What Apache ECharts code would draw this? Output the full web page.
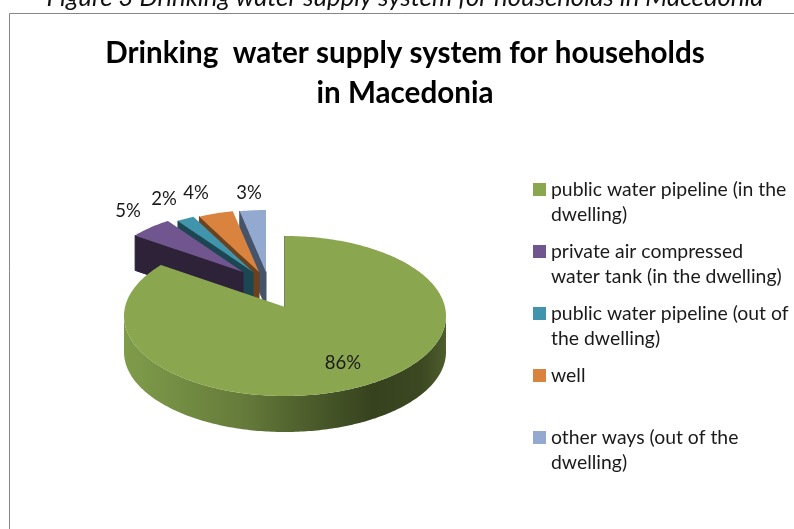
<!DOCTYPE html>
<html>
<head>
<meta charset="utf-8">
<style>html,body{margin:0;padding:0;background:#fff;overflow:hidden}#c{width:794px;height:529px}</style>
<script src="https://cdn.jsdelivr.net/npm/echarts@6/dist/echarts.min.js"></script>
</head>
<body>
<div id="c"></div>
<script>
const captionText = 'Figure 3 Drinking water supply system for households in Macedonia';
const titleText = 'Drinking  water supply system for households\nin Macedonia';
const categories = [
  'public water pipeline (in the\ndwelling)',
  'private air compressed\nwater tank (in the dwelling)',
  'public water pipeline (out of\nthe dwelling)',
  'well',
  'other ways (out of the\ndwelling)'
];
const values = [86, 5, 2, 4, 3];
const faceColors = ['#8aa64f', '#71558e', '#4095ad', '#d9833e', '#93a9cf'];
const wallColors = ['#4a5a2a', '#2d2238', '#1d4653', '#6b411e', '#465469'];
// layout of each exploded slice: ellipse centre, radii, apex lift
const centreX = [285, 243, 253, 259, 266];
const centreY = [316, 280, 280, 280, 280];
const radiusX = [161, 140, 140, 140, 140];
const radiusY = [80, 70, 70, 70, 70];
const apexLift = [9, 8, 8, 8, 8];
const depth = [36, 35, 35, 35, 35];
const labelX = [343, 128, 164, 196, 249];
const labelY = [363, 211, 199, 193, 193];

const total = values.reduce((a, b) => a + b, 0);
const FONT = 'Lato, "Open Sans", sans-serif';

function renderSlice(i) {
  return function (params, api) {
    const v = api.value(0);
    let before = 0;
    for (let k = 0; k < i; k++) before += values[k];
    const a0 = before / total * 2 * Math.PI;
    const a1 = (before + v) / total * 2 * Math.PI;
    const cx = centreX[i], cy = centreY[i], rx = radiusX[i], ry = radiusY[i], d = depth[i];
    const apex = [cx, cy - apexLift[i]];
    const pt = a => [cx + rx * Math.sin(a), cy - ry * Math.cos(a)];
    const arc = [];
    const n = Math.max(8, Math.ceil((a1 - a0) * 60));
    for (let s = 0; s <= n; s++) arc.push(a0 + (a1 - a0) * s / n);

    const children = [];
    // cut face on the start edge
    const p0 = pt(a0);
    children.push({
      type: 'polygon',
      shape: { points: [apex, p0, [p0[0], p0[1] + d], [apex[0], apex[1] + d]] },
      style: { fill: wallColors[i], stroke: wallColors[i], lineWidth: 1 }
    });
    // outer wall where the rim faces the viewer
    const front = arc.filter(a => Math.cos(a) <= 0);
    if (front.length > 1) {
      const top = front.map(pt);
      const bottom = top.map(p => [p[0], p[1] + d]).reverse();
      children.push({
        type: 'polygon',
        shape: { points: top.concat(bottom) },
        style: {
          fill: i === 0
            ? new echarts.graphic.LinearGradient(124, 0, 447, 0, [
                { offset: 0, color: '#7f9c4a' },
                { offset: 0.36, color: '#667c3b' },
                { offset: 0.55, color: '#4f602d' },
                { offset: 0.77, color: '#36421e' },
                { offset: 0.92, color: '#3c4822' },
                { offset: 1, color: '#4e5e2c' }
              ], true)
            : wallColors[i]
        }
      });
    }
    // top face
    children.push({
      type: 'polygon',
      shape: { points: [apex].concat(arc.map(pt)) },
      style: { fill: faceColors[i] }
    });
    // percentage label
    children.push({
      type: 'text',
      z2: 10,
      style: {
        text: v + '%', x: labelX[i], y: labelY[i],
        align: 'center', verticalAlign: 'middle',
        font: '18.5px ' + FONT, fill: '#1a1a1a'
      }
    });
    return { type: 'group', children };
  };
}

const drawOrder = [4, 3, 2, 1, 0];
const chart = echarts.init(document.getElementById('c'), null, { renderer: 'canvas' });
chart.setOption({
  animation: false,
  backgroundColor: '#fff',
  title: [
    {
      text: captionText, left: 400, top: -20, textAlign: 'center',
      textStyle: { fontFamily: FONT, fontSize: 25.7, fontStyle: 'italic', fontWeight: 'normal', color: '#111' }
    },
    {
      text: titleText, left: 400, top: 28, textAlign: 'center',
      textStyle: { fontFamily: FONT, fontSize: 29.6, fontWeight: 'bold', color: '#000', lineHeight: 40 }
    }
  ],
  graphic: [{
    type: 'rect', z: -1,
    shape: { x: 9.5, y: 13.5, width: 900, height: 700 },
    style: { fill: '#fff', stroke: '#868686', lineWidth: 1 }
  }],
  legend: {
    data: categories.map((c, i) => ({ name: c, itemStyle: { color: faceColors[i] } })),
    orient: 'vertical', left: 528, top: 147,
    itemWidth: 13, itemHeight: 13, itemGap: -13,
    selectedMode: false,
    icon: 'rect',
    formatter: name => name.includes('\n') ? '\n' + name : '\n' + name + '\n ',
    textStyle: { fontFamily: FONT, fontSize: 19.4, lineHeight: 25, color: '#1a1a1a' }
  },
  series: drawOrder.map(i => ({
    type: 'custom',
    name: categories[i],
    coordinateSystem: 'none',
    renderItem: renderSlice(i),
    itemStyle: { color: faceColors[i] },
    data: [[values[i]]],
    silent: true
  }))
});
</script>
</body>
</html>
